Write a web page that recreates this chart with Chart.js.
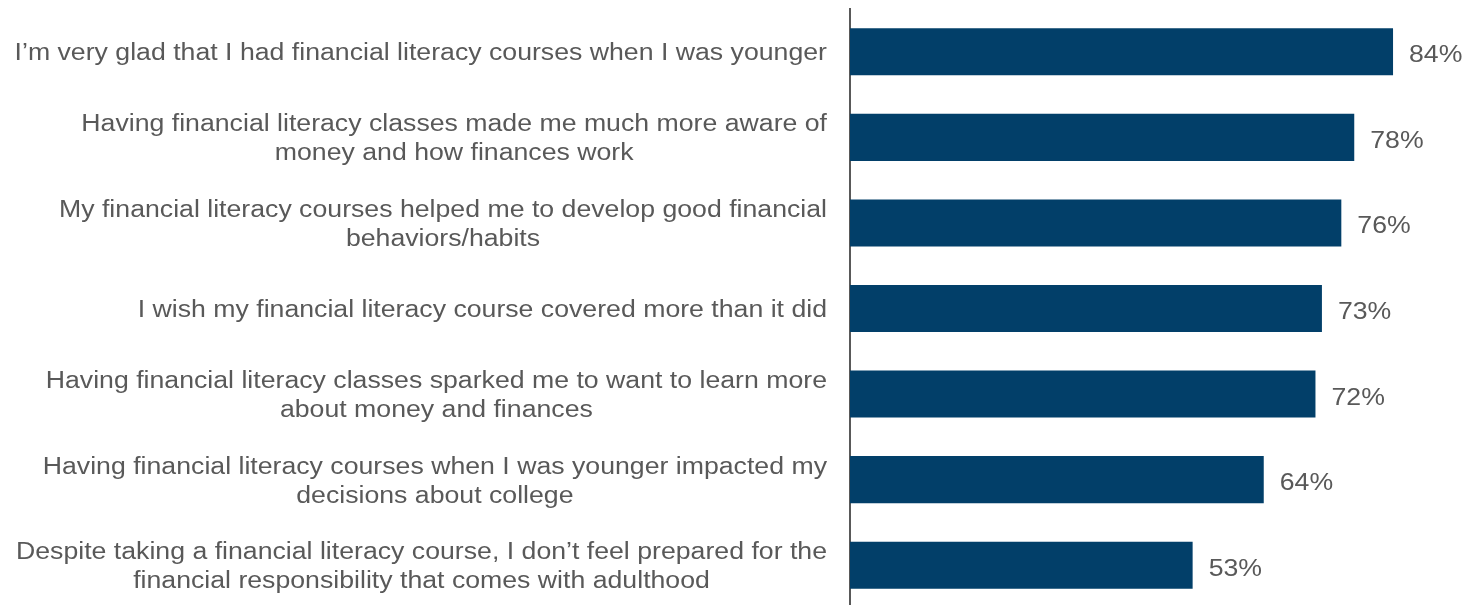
<!DOCTYPE html>
<html>
<head>
<meta charset="utf-8">
<script src="https://cdn.jsdelivr.net/npm/chart.js@4.4.1/dist/chart.umd.min.js"></script>
<style>
  html, body { margin: 0; padding: 0; background: #fff; overflow: hidden; }
  #wrap { position: relative; width: 1469px; height: 608px; }
</style>
</head>
<body>
<div id="wrap"><canvas id="chart"></canvas></div>
<script>
const statements = [
    ['I’m very glad that I had financial literacy courses when I was younger'],
    ['Having financial literacy classes made me much more aware of', 'money and how finances work'],
    ['My financial literacy courses helped me to develop good financial', 'behaviors/habits'],
    ['I wish my financial literacy course covered more than it did'],
    ['Having financial literacy classes sparked me to want to learn more', 'about money and finances'],
    ['Having financial literacy courses when I was younger impacted my', 'decisions about college'],
    ['Despite taking a financial literacy course, I don’t feel prepared for the', 'financial responsibility that comes with adulthood']
];
const agreePct = [84, 78, 76, 73, 72, 64, 53];
const valueLabels = agreePct.map(v => v + '%');

const barColor = '#023f69';
const textColor = '#595959';
const fontSize = 23.5;
const stretch = 1.135;   // text in the original is a bit wide
const lineHeight = 29;
const labelRight = 827;
const valueGap = 16;

// draws the wrapped, centred statement labels and the % values
const sideLabels = {
    id: 'sideLabels',
    afterDatasetsDraw(chart) {
        const ctx = chart.ctx;
        const yScale = chart.scales.y;
        const meta = chart.getDatasetMeta(0);
        ctx.save();
        ctx.fillStyle = textColor;
        ctx.font = fontSize + 'px "Liberation Sans", Arial, sans-serif';
        ctx.textBaseline = 'middle';

        statements.forEach((lines, i) => {
            const cy = yScale.getPixelForValue(i) + 2;
            const maxW = Math.max(...lines.map(l => ctx.measureText(l).width)) * stretch;
            const cx = labelRight - maxW / 2;
            lines.forEach((line, j) => {
                const ly = cy + (j - (lines.length - 1) / 2) * lineHeight;
                ctx.save();
                ctx.translate(cx, ly);
                ctx.scale(stretch, 1);
                ctx.textAlign = 'center';
                ctx.fillText(line, 0, 0);
                ctx.restore();
            });

            const bar = meta.data[i];
            ctx.save();
            ctx.translate(bar.x + valueGap, cy + 2);
            ctx.scale(stretch, 1);
            ctx.textAlign = 'left';
            ctx.fillText(valueLabels[i], 0, 0);
            ctx.restore();
        });
        ctx.restore();
    }
};

new Chart(document.getElementById('chart'), {
    type: 'bar',
    data: {
        labels: statements.map(s => s.join(' ')),
        datasets: [{
            data: agreePct,
            backgroundColor: barColor,
            borderWidth: 0,
            barPercentage: 0.55,
            categoryPercentage: 1.0
        }]
    },
    options: {
        indexAxis: 'y',
        responsive: true,
        maintainAspectRatio: false,
        animation: false,
        layout: { padding: { top: 9, right: 0, bottom: 0, left: 0 } },
        plugins: {
            legend: { display: false },
            tooltip: { enabled: false }
        },
        scales: {
            x: {
                display: false,
                min: 0,
                max: 95.75
            },
            y: {
                ticks: { display: false },
                grid: { display: false },
                border: { display: true, color: textColor, width: 2 },
                afterFit(scale) { scale.width = 850; }
            }
        }
    },
    plugins: [sideLabels]
});
</script>
</body>
</html>
